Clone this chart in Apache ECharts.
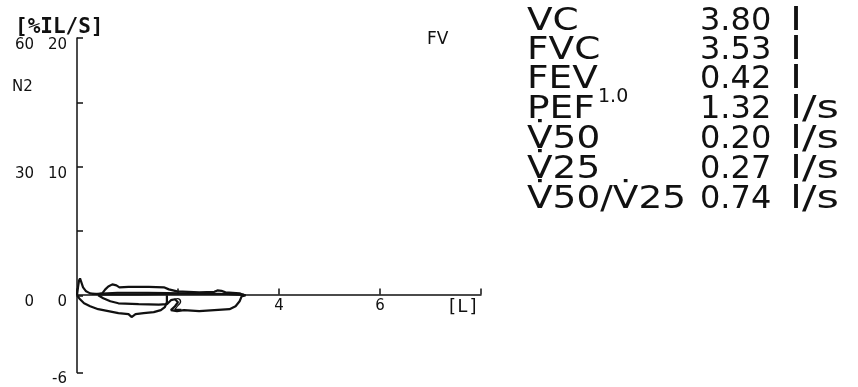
<!DOCTYPE html>
<html>
<head>
<meta charset="utf-8">
<script src="https://cdn.jsdelivr.net/npm/echarts@6/dist/echarts.min.js"></script>
<style>html,body{margin:0;padding:0;background:#fff}#c{width:858px;height:387px}</style>
</head>
<body>
<div id="c"></div>
<script>
// ---- data (volume L, flow L/s) ----
var trace1 = [[0,0],[0.02,0.62],[0.04,1.15],[0.06,1.31],[0.08,1.08],[0.12,0.62],[0.18,0.31],[0.26,0.15],[0.42,0.08],[1.22,0.08],[2.02,0.12],[2.82,0.12],[3.22,0.08],[3.32,0]];
var trace2 = [[0.42,0.08],[0.5,0.15],[0.56,0.46],[0.62,0.69],[0.7,0.85],[0.78,0.77],[0.84,0.62],[1.02,0.65],[1.42,0.65],[1.72,0.62],[1.82,0.46],[1.98,0.31],[2.42,0.23],[2.72,0.27],[2.78,0.38],[2.86,0.35],[2.94,0.23],[3.22,0.15],[3.26,0.08],[3.34,0]];
var trace3 = [[0,0],[0.06,-0.31],[0.14,-0.62],[0.26,-0.85],[0.42,-1.08],[0.62,-1.23],[0.82,-1.38],[1.02,-1.46],[1.08,-1.69],[1.16,-1.46],[1.32,-1.38],[1.52,-1.31],[1.66,-1.15],[1.74,-0.92],[1.78,-0.54],[1.78,-0.15],[1.78,0]];
var trace4 = [[0.42,0],[0.52,-0.23],[0.66,-0.46],[0.82,-0.62],[1.22,-0.69],[1.62,-0.73],[1.78,-0.69],[1.86,-0.38],[1.94,-0.31],[2.0,-0.54],[1.94,-0.85],[1.86,-1.15],[1.98,-1.23],[2.12,-1.15],[2.42,-1.23],[2.72,-1.15],[3.02,-1.08],[3.14,-0.85],[3.22,-0.46],[3.26,-0.08],[3.34,0]];
var trace5 = [[0.3,0.1],[0.8,0.2],[1.4,0.2],[1.8,0.18],[2.4,0.12],[3.0,0.1],[3.3,0.05]];
var xTickLabels = [2,4,6];
var yTicks = [-6,0,5,10,15,20];
var yLabels = [-6,0,10,20];
var pctLabels = [0,30,60];
var statLabels = ['VC','FVC','FEV','PEF','V\u030750','V\u030725','V\u030750/V\u030725'];
var statValues = ['3.80','3.53','0.42','1.32','0.20','0.27','0.74'];
var statUnits = ['l','l','l','l/s','l/s','l/s','l/s'];

var chart = echarts.init(document.getElementById('c'));
var graphics = [];
graphics.push({type:'text', left:15, top:17, style:{text:'[%IL/S]', font:'bold 21px "DejaVu Sans Mono"', fill:'#111'}});
graphics.push({type:'text', left:12, top:80, style:{text:'N2', font:'15px "DejaVu Sans"', fill:'#111'}});
graphics.push({type:'text', left:427, top:31, style:{text:'FV', font:'17px "DejaVu Sans"', fill:'#111'}});
var rowY = [22,51,80,110,140,170,200];
var bigFont = '32px "DejaVu Sans"';
for (var i=0;i<statLabels.length;i++){
  graphics.push({type:'text', x:527, y:rowY[i], scaleX:1.17, style:{text:statLabels[i], font:bigFont, fill:'#111', verticalAlign:'middle'}});
  graphics.push({type:'text', x:700, y:rowY[i], scaleX:1.0, style:{text:statValues[i], font:bigFont, fill:'#111', verticalAlign:'middle'}});
  graphics.push({type:'text', x:790, y:rowY[i], scaleX:1.35, style:{text:statUnits[i], font:bigFont, fill:'#111', verticalAlign:'middle'}});
}
graphics.push({type:'text', x:598, y:rowY[2]+17, style:{text:'1.0', font:'19px "DejaVu Sans"', fill:'#111', verticalAlign:'middle'}});

function shifted(v){ return '{a|' + v + '}'; }
var richA = {a:{padding:[14,0,0,0],fontFamily:'DejaVu Sans',fontSize:15,color:'#111'}};

chart.setOption({
  animation:false,
  backgroundColor:'#fff',
  grid:{left:77,right:377,top:38,bottom:11,containLabel:false},
  xAxis:{type:'value',min:0,max:8,interval:2,position:'bottom',offset:-78,
    axisLine:{onZero:false,lineStyle:{color:'#111',width:1.5}},
    axisTick:{inside:true,length:6,lineStyle:{color:'#111',width:1.5}},
    axisLabel:{customValues:xTickLabels,margin:4,fontFamily:'DejaVu Sans',fontSize:15,color:'#111'},
    splitLine:{show:false},
    name:'[L]',nameLocation:'end',nameGap:-2,
    nameTextStyle:{align:'right',verticalAlign:'top',padding:[4,0,0,0],fontFamily:'DejaVu Sans Mono',fontSize:18,color:'#111'}
  },
  yAxis:[{type:'value',min:-6,max:20,position:'left',
    axisLine:{show:true,onZero:false,lineStyle:{color:'#111',width:1.5}},
    axisTick:{show:true,inside:true,length:6,customValues:yTicks,lineStyle:{color:'#111',width:1.5}},
    axisLabel:{customValues:yLabels,margin:10,formatter:shifted,rich:richA},
    splitLine:{show:false}
  },{type:'value',min:-18,max:60,position:'left',
    axisLine:{show:false},axisTick:{show:false},
    axisLabel:{customValues:pctLabels,margin:43,formatter:shifted,rich:richA},
    splitLine:{show:false}
  }],
  graphic:graphics,
  series:[trace1,trace2,trace3,trace4,trace5].map(function(d){
    return {type:'line',data:d,showSymbol:false,smooth:false,lineStyle:{color:'#111',width:2.2},yAxisIndex:0,silent:true};
  })
});
</script>
</body>
</html>
